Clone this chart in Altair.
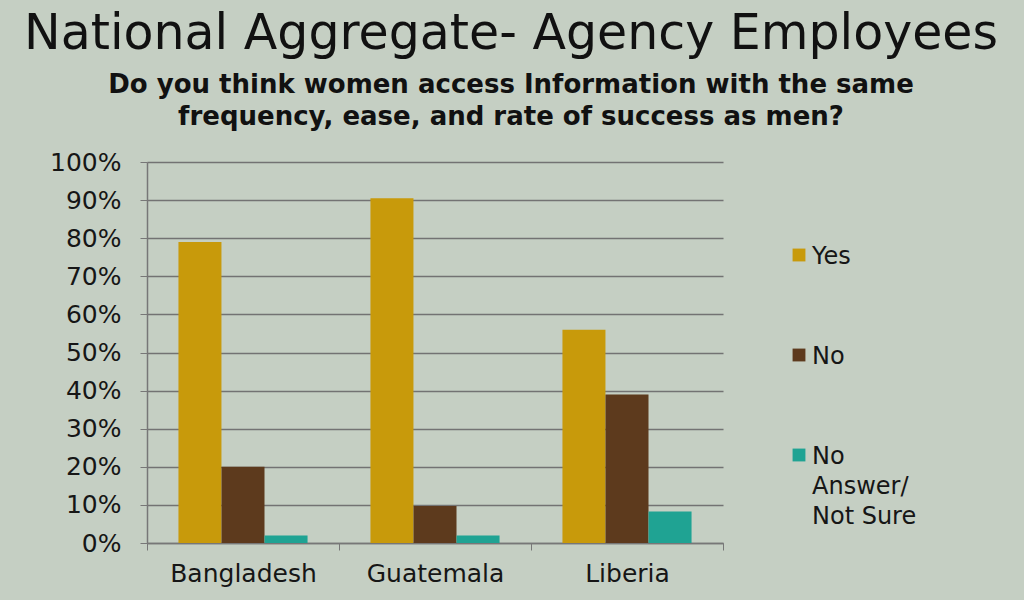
import altair as alt
import pandas as pd

countries = ["Bangladesh", "Guatemala", "Liberia"]
answers = ["Yes", "No", "No Answer/ Not Sure"]
answer_lines = ["Yes", "No", "No\nAnswer/\nNot Sure"]
yes_vals = [0.79, 0.905, 0.56]
no_vals = [0.20, 0.097, 0.39]
unsure_vals = [0.02, 0.02, 0.083]
colors = ["#c89a0b", "#5d3a1d", "#1fa393"]

rows = []
for i, c in enumerate(countries):
    for a, vals in zip(answers, [yes_vals, no_vals, unsure_vals]):
        rows.append({"Country": c, "Answer": a, "Share": vals[i]})
df = pd.DataFrame(rows)
key_df = pd.DataFrame({"Answer": answers, "Label": answer_lines})

FONT = "DejaVu Sans"
BG = "#c5cfc3"
INK = "#161616"
AXIS_GRAY = "#777777"

color_scale = alt.Scale(domain=answers, range=colors)

bars = (
    alt.Chart(df)
    .mark_bar(size=43)
    .encode(
        x=alt.X(
            "Country:N",
            sort=countries,
            title=None,
            scale=alt.Scale(paddingInner=0, paddingOuter=0),
            axis=alt.Axis(
                labelAngle=0,
                labelFontSize=25,
                labelPadding=11,
                labelColor=INK,
                labelFont=FONT,
                tickBand="extent",
                tickSize=7,
                tickColor=AXIS_GRAY,
                domainColor=AXIS_GRAY,
                domainWidth=1.5,
                grid=False,
            ),
        ),
        xOffset=alt.XOffset(
            "Answer:N",
            sort=answers,
            scale=alt.Scale(paddingInner=0, paddingOuter=0.73),
        ),
        y=alt.Y(
            "Share:Q",
            title=None,
            scale=alt.Scale(domain=[0, 1]),
            axis=alt.Axis(
                format=".0%",
                values=[i / 10 for i in range(11)],
                labelFontSize=25,
                labelColor=INK,
                labelFont=FONT,
                labelPadding=19,
                tickSize=7,
                tickColor=AXIS_GRAY,
                domainColor=AXIS_GRAY,
                domainWidth=1.5,
                gridColor="#737373",
                gridWidth=1.6,
            ),
        ),
        color=alt.Color("Answer:N", sort=answers, scale=color_scale, legend=None),
    )
)

# Key on the right: one swatch per answer, spaced along its own point scale,
# with the (possibly multi-line) answer text beside it.
key_y = alt.Y(
    "Answer:N",
    sort=answers,
    axis=None,
    scale=alt.Scale(domain=answers, range=[93, 293], padding=0),
)

key_swatches = (
    alt.Chart(key_df)
    .mark_square(size=165, opacity=1)
    .encode(
        x=alt.value(652),
        y=key_y,
        color=alt.Color("Answer:N", sort=answers, scale=color_scale, legend=None),
    )
)

key_text = (
    alt.Chart(key_df)
    .mark_text(
        align="left",
        baseline="top",
        dy=-10,
        lineBreak="\n",
        lineHeight=30,
        font=FONT,
        fontSize=24,
        color=INK,
    )
    .encode(
        x=alt.value(665),
        y=key_y,
        text="Label:N",
    )
)

chart = (
    alt.layer(bars, key_swatches, key_text)
    .resolve_scale(y="independent")
    .properties(
        width=576,
        height=381,
        padding={"left": 147, "top": 162, "right": 301, "bottom": 57},
        autosize=alt.AutoSizeParams(type="none"),
        background=BG,
        title=alt.TitleParams(
            text="National Aggregate- Agency Employees",
            subtitle=["Do you think women access Information with the same",
                      "frequency, ease, and rate of success as men?"],
            anchor="middle",
            dx=76,
            offset=20,
            font=FONT,
            fontSize=49,
            fontWeight="normal",
            color="#111111",
            subtitleFont=FONT,
            subtitleFontSize=26,
            subtitleFontWeight="bold",
            subtitleColor="#111111",
            subtitlePadding=13,
            subtitleLineHeight=32,
        ),
    )
    .configure_view(stroke=None)
)

chart.save("out.html", embed_options={"renderer": "svg", "actions": False})
